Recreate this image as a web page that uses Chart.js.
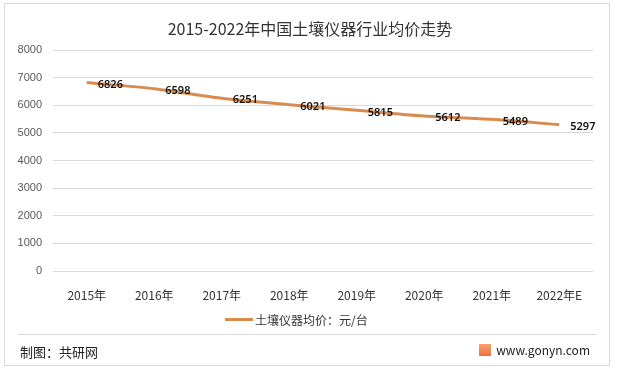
<!DOCTYPE html>
<html>
<head>
<meta charset="utf-8">
<title>2015-2022年中国土壤仪器行业均价走势</title>
<script src="https://cdn.jsdelivr.net/npm/chart.js@4.4.1/dist/chart.umd.min.js"></script>
<style>
  html, body { margin: 0; padding: 0; background: #fff; }
  #wrap { position: relative; width: 620px; height: 375px; }
</style>
</head>
<body>
<div id="wrap"><canvas id="chart"></canvas></div>
<script>
/* ---------- data ---------- */
var YEARS  = ['2015年', '2016年', '2017年', '2018年', '2019年', '2020年', '2021年', '2022年E'];
var PRICES = [6826, 6598, 6251, 6021, 5815, 5612, 5489, 5297];
var Y_MIN = 0, Y_MAX = 8000, Y_STEP = 1000;

var TITLE  = '2015-2022年中国土壤仪器行业均价走势';
var SERIES = '土壤仪器均价：元/台';
var SOURCE = '制图：共研网';
var SITE   = 'www.gonyn.com';

var LINE_COLOR = '#D98B4E';
var CJK = '"Noto Sans CJK SC", "Noto Sans", sans-serif';

/* ---------- frame, title, legend, footer, point labels ---------- */
var decor = {
  id: 'decor',
  beforeDraw: function (chart) {
    var ctx = chart.ctx;
    ctx.save();
    ctx.fillStyle = '#fff';
    ctx.fillRect(0, 0, chart.width, chart.height);
    ctx.restore();
  },
  afterDraw: function (chart) {
    var ctx = chart.ctx;
    ctx.save();

    // outer frame
    ctx.strokeStyle = '#D9D9D9';
    ctx.lineWidth = 1;
    ctx.strokeRect(4.5, 3.5, 605, 362);

    // title
    ctx.fillStyle = '#333';
    ctx.font = '16px ' + CJK;
    ctx.textAlign = 'center';
    ctx.textBaseline = 'middle';
    ctx.fillText(TITLE, 310, 29);

    // legend
    ctx.strokeStyle = LINE_COLOR;
    ctx.lineWidth = 3;
    ctx.beginPath();
    ctx.moveTo(225, 319.5);
    ctx.lineTo(253, 319.5);
    ctx.stroke();
    ctx.font = '12px ' + CJK;
    ctx.textAlign = 'left';
    ctx.fillStyle = '#333';
    ctx.fillText(SERIES, 255, 320);

    // footer separator + texts
    ctx.strokeStyle = '#D9D9D9';
    ctx.lineWidth = 1;
    ctx.beginPath();
    ctx.moveTo(18, 334.5);
    ctx.lineTo(597, 334.5);
    ctx.stroke();

    ctx.font = '13px ' + CJK;
    ctx.fillStyle = '#222';
    ctx.textAlign = 'left';
    ctx.fillText(SOURCE, 20, 352);

    ctx.textAlign = 'right';
    ctx.font = '12px ' + CJK;
    ctx.fillText(SITE, 590, 350);
    var g = ctx.createLinearGradient(0, 344, 0, 357);
    g.addColorStop(0, '#F7A56A');
    g.addColorStop(1, '#EE6A3C');
    ctx.fillStyle = g;
    ctx.fillRect(479, 344, 12, 12);

    // value labels, to the right of each point
    var meta = chart.getDatasetMeta(0);
    ctx.font = '600 11px "Noto Sans", sans-serif';
    ctx.fillStyle = '#111';
    ctx.textAlign = 'left';
    ctx.textBaseline = 'middle';
    meta.data.forEach(function (pt, i) {
      ctx.fillText(String(PRICES[i]), pt.x + 11, pt.y + 2);
    });

    ctx.restore();
  }
};

new Chart(document.getElementById('chart'), {
  type: 'line',
  data: {
    labels: YEARS,
    datasets: [{
      label: SERIES,
      data: PRICES,
      borderColor: LINE_COLOR,
      borderWidth: 3,
      pointRadius: 0,
      tension: 0.25,
      fill: false
    }]
  },
  options: {
    responsive: true,
    maintainAspectRatio: false,
    animation: false,
    layout: { padding: { top: 50, right: 27, bottom: 70, left: 0 } },
    plugins: {
      legend: { display: false },
      title: { display: false },
      tooltip: { enabled: false }
    },
    scales: {
      x: {
        offset: true,
        grid: { display: false, drawTicks: false },
        border: { display: false },
        ticks: {
          color: '#333',
          padding: 17,
          maxRotation: 0,
          font: { size: 12, family: CJK }
        },
        afterFit: function (s) { s.height = 34; }
      },
      y: {
        min: Y_MIN,
        max: Y_MAX,
        grid: { color: '#D9D9D9', drawTicks: false },
        border: { display: false },
        ticks: {
          stepSize: Y_STEP,
          color: '#595959',
          padding: 11,
          font: { size: 11, family: '"Liberation Sans", sans-serif' },
          callback: function (v) { return String(v); }
        },
        afterFit: function (s) { s.width = 53; }
      }
    }
  },
  plugins: [decor]
});
</script>
</body>
</html>
